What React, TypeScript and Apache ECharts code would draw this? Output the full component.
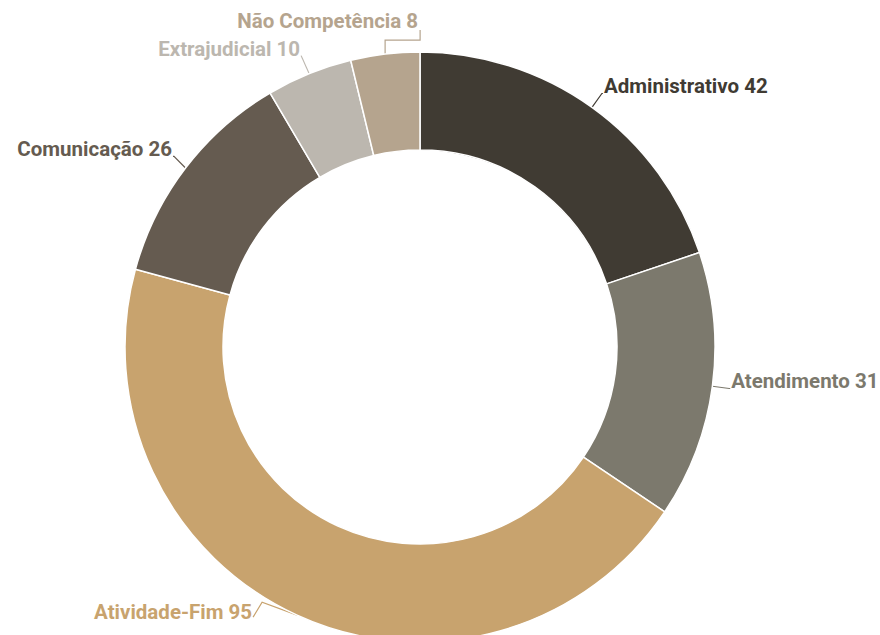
import React, { useEffect, useRef } from "react";
import * as echarts from "echarts";

const categories = ["Administrativo", "Atendimento", "Atividade-Fim", "Comunicação", "Extrajudicial", "Não Competência"];
const values = [42, 31, 95, 26, 10, 8];
const colors = ["#403b33", "#7c796d", "#c8a36e", "#655b50", "#bcb7af", "#b5a48e"];

// half of the empty second line used to lift the visible text above the line end
const LIFT = 7.5;

export default function App() {
  const ref = useRef<HTMLDivElement>(null);
  useEffect(() => {
    const chart = echarts.init(ref.current!, null, { renderer: "svg" });
    chart.setOption({
      animation: false,
      series: [
        {
          type: "pie",
          center: [420, 347],
          radius: [197, 295],
          startAngle: 90,
          clockwise: true,
          avoidLabelOverlap: true,
          itemStyle: { borderColor: "#ffffff", borderWidth: 1.5 },
          label: {
            show: true,
            formatter: "{b} {c}\n",
            fontFamily: "Roboto",
            fontWeight: "bold",
            fontSize: 20.5,
            lineHeight: 15,
            color: "inherit",
            overflow: "none",
            distanceToLabelLine: 1,
          },
          labelLine: { show: true, length: 17, length2: 1, lineStyle: { width: 1.2 } },
          labelLayout: (params: any) => {
            const pts = params.labelLinePoints;
            if (!pts || !pts[0]) return {};
            const p0 = pts[0];
            if (params.dataIndex === 2) {
              return {
                x: p0[0] - 45,
                y: p0[1] - 3 + LIFT,
                align: "right",
                verticalAlign: "middle",
                labelLinePoints: [p0, [p0[0] - 35, p0[1] - 13], [p0[0] - 44, p0[1] + 2]],
              };
            }
            if (params.dataIndex === 4) {
              return {
                x: p0[0] - 9,
                y: p0[1] - 25 + LIFT,
                align: "right",
                verticalAlign: "middle",
                labelLinePoints: [p0, [p0[0] - 8, p0[1] - 18]],
              };
            }
            if (params.dataIndex === 5) {
              return {
                x: p0[0] + 33,
                y: p0[1] - 33 + LIFT,
                align: "right",
                verticalAlign: "middle",
                labelLinePoints: [p0, [p0[0], p0[1] - 14], [p0[0] + 35, p0[1] - 14], [p0[0] + 35, p0[1] - 24]],
              };
            }
            return {};
          },
          data: categories.map((c, i) => ({
            name: c,
            value: values[i],
            itemStyle: { color: colors[i] },
            label: { color: colors[i] },
          })),
        },
      ],
    });
    return () => chart.dispose();
  }, []);
  return <div ref={ref} style={{ position: "absolute", left: 0, top: 0, width: 880, height: 635 }} />;
}
